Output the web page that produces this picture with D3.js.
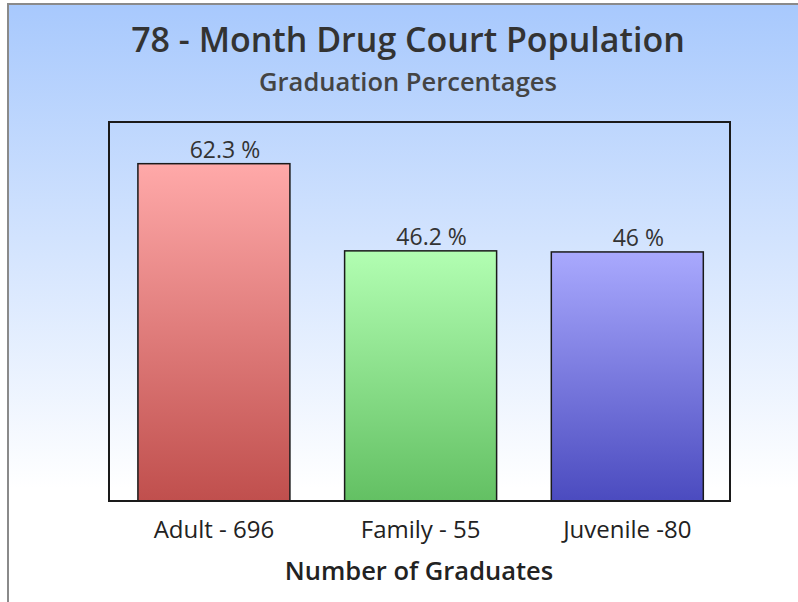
<!DOCTYPE html>
<html>
<head>
<meta charset="utf-8">
<script src="https://cdn.jsdelivr.net/npm/d3@7"></script>
<style>
  body { margin: 0; background: #fff; }
  svg { display: block; font-family: "Open Sans", sans-serif; }
</style>
</head>
<body>
<svg id="chart" width="798" height="602"></svg>
<script>
const categories = ["Adult - 696", "Family - 55", "Juvenile -80"];
const values = [62.3, 46.2, 46];
const valueLabels = ["62.3 %", "46.2 %", "46 %"];
const barTop = ["#ffa9a9", "#b2feb2", "#a9a9fe"];
const barBottom = ["#c04f4d", "#63c063", "#4b4bbf"];

const title = "78 - Month Drug Court Population";
const subtitle = "Graduation Percentages";
const xTitle = "Number of Graduates";

const svg = d3.select("#chart");
const width = 798, height = 602;
const plot = { left: 109, right: 730, top: 122, bottom: 501 };

const defs = svg.append("defs");

// background fade
let bg = defs.append("linearGradient")
  .attr("id", "bg").attr("x1", 0).attr("y1", 0).attr("x2", 0).attr("y2", 1);
bg.append("stop").attr("offset", "0%").attr("stop-color", "#a8c9fd");
bg.append("stop").attr("offset", "81%").attr("stop-color", "#ffffff");
bg.append("stop").attr("offset", "100%").attr("stop-color", "#ffffff");

categories.forEach((c, i) => {
  let g = defs.append("linearGradient")
    .attr("id", "bar" + i).attr("x1", 0).attr("y1", 0).attr("x2", 0).attr("y2", 1);
  g.append("stop").attr("offset", "0%").attr("stop-color", barTop[i]);
  g.append("stop").attr("offset", "100%").attr("stop-color", barBottom[i]);
});

svg.append("rect")
  .attr("x", 9).attr("y", 5).attr("width", width - 9).attr("height", height - 5)
  .attr("fill", "url(#bg)");

// outer frame (left + top only visible)
svg.append("line").attr("x1", 8).attr("x2", 8).attr("y1", 3).attr("y2", height)
  .attr("stroke", "#8a8a8a").attr("stroke-width", 2);
svg.append("line").attr("x1", 7).attr("x2", width).attr("y1", 4).attr("y2", 4)
  .attr("stroke", "#8a8a8a").attr("stroke-width", 2);

let x = d3.scaleBand()
  .domain(categories)
  .range([plot.left, plot.right])
  .paddingInner(0.2646)
  .paddingOuter(0.1345)
  .align(0.52);

let y = d3.scaleLinear()
  .domain([0, 70])
  .range([plot.bottom, plot.top]);

// bars
svg.selectAll(".bar")
  .data(values)
  .enter()
  .append("rect")
  .attr("class", "bar")
  .attr("x", (d, i) => x(categories[i]))
  .attr("y", d => y(d))
  .attr("width", x.bandwidth())
  .attr("height", d => y(0) - y(d))
  .attr("fill", (d, i) => "url(#bar" + i + ")")
  .attr("stroke", "#1a1a1a")
  .attr("stroke-width", 1.5);

// value labels
svg.selectAll(".val")
  .data(values)
  .enter()
  .append("text")
  .attr("x", (d, i) => x(categories[i]) + x.bandwidth() / 2 + 11)
  .attr("y", d => y(d) - 6)
  .attr("text-anchor", "middle")
  .attr("font-size", 23)
  .attr("fill", "#333")
  .text((d, i) => valueLabels[i]);

// plot frame
svg.append("rect")
  .attr("x", plot.left).attr("y", plot.top)
  .attr("width", plot.right - plot.left).attr("height", plot.bottom - plot.top)
  .attr("fill", "none").attr("stroke", "#1a1a1a").attr("stroke-width", 2);

// category axis
let xAxis = svg.append("g")
  .attr("transform", "translate(0," + plot.bottom + ")")
  .call(d3.axisBottom(x).tickSize(0));
xAxis.select(".domain").remove();
xAxis.selectAll("text")
  .attr("dy", null)
  .attr("y", 37)
  .attr("font-family", "Open Sans, sans-serif")
  .attr("font-size", 24)
  .attr("fill", "#222");

// titles
svg.append("text")
  .attr("x", 408).attr("y", 52)
  .attr("text-anchor", "middle")
  .attr("font-size", 34).attr("font-weight", 600)
  .attr("fill", "#333")
  .text(title);

svg.append("text")
  .attr("x", 408).attr("y", 91)
  .attr("text-anchor", "middle")
  .attr("font-size", 25.5).attr("font-weight", 600)
  .attr("fill", "#444")
  .text(subtitle);

svg.append("text")
  .attr("x", 419).attr("y", 580)
  .attr("text-anchor", "middle")
  .attr("font-size", 25.5).attr("font-weight", 600)
  .attr("fill", "#222")
  .text(xTitle);
</script>
</body>
</html>
